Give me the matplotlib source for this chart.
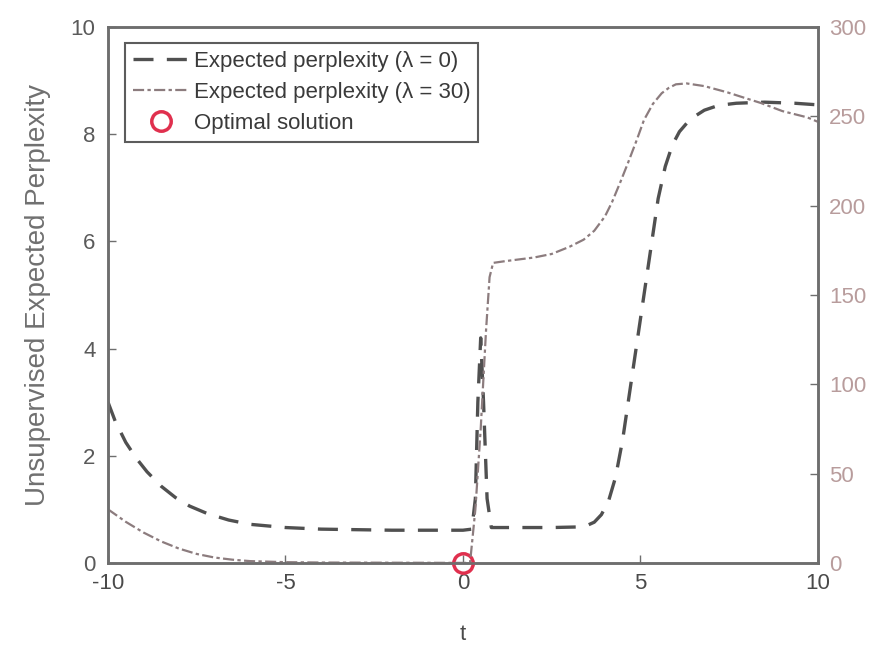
import matplotlib
matplotlib.use('Agg')
import matplotlib.pyplot as plt

# expected perplexity, lambda = 0 (left axis)
t0 = [-10, -9.8, -9.5, -9.2, -8.9, -8.5, -8.1, -7.7, -7.2, -6.6, -6.0, -5.0, -4.0, -3.0, -2.0,
      -1.0, 0.0, 0.25, 0.35, 0.42, 0.5, 0.58, 0.68, 0.8, 1.5, 2.5, 3.2, 3.5, 3.7, 3.9, 4.1,
      4.3, 4.5, 4.7, 4.9, 5.1, 5.3, 5.5, 5.7, 5.9, 6.1, 6.4, 6.8, 7.2, 7.7, 8.5, 9.35, 10]
p0 = [3.0, 2.65, 2.25, 1.95, 1.7, 1.43, 1.22, 1.06, 0.92, 0.8, 0.72, 0.66, 0.63, 0.62, 0.61,
      0.61, 0.61, 0.63, 1.2, 3.0, 4.2, 3.0, 1.2, 0.66, 0.66, 0.66, 0.67, 0.7, 0.76, 0.9, 1.15,
      1.6, 2.3, 3.2, 4.1, 5.0, 5.9, 6.8, 7.4, 7.8, 8.05, 8.28, 8.45, 8.54, 8.58, 8.6, 8.58, 8.55]

# expected perplexity, lambda = 30 (right axis)
t30 = [-10, -9.5, -9.0, -8.5, -8.0, -7.5, -7.0, -6.5, -6.0, -5.0, -4.0, -2.0, 0.0, 0.2, 0.35,
       0.5, 0.65, 0.75, 0.85, 1.2, 2.0, 2.5, 3.0, 3.4, 3.7, 4.0, 4.2, 4.45, 4.65, 4.9, 5.1,
       5.35, 5.6, 5.8, 6.0, 6.3, 6.8, 7.45, 8.0, 8.4, 9.0, 9.7, 10]
p30 = [30, 23, 17, 12, 8, 5, 3, 1.8, 1.0, 0.4, 0.2, 0.1, 0.0, 0.0, 30,
       75, 130, 160, 168, 169, 171, 173, 177, 181, 186, 194, 202, 214, 224, 237, 248,
       257, 263, 266, 268, 268.5, 267, 263.5, 260, 257.5, 253, 249.5, 247]

opt_t = [0]
opt_p = [0]

plt.rcParams['font.family'] = ['Liberation Sans', 'DejaVu Sans']
plt.rcParams['axes.unicode_minus'] = False

fig = plt.figure(figsize=(8.89, 6.47), dpi=100)
ax = fig.add_axes([0.1215, 0.130, 0.7985, 0.828])
ax2 = ax.twinx()

axc = '#6e6e6e'
rc = '#b89c9c'

l0, = ax.plot(t0, p0, color='#505050', lw=2.4, ls=(0, (6, 4)))
l30, = ax2.plot(t30, p30, color='#8c7c7e', lw=1.6, ls=(0, (5, 1.5, 1.5, 1.5)))
lo, = ax.plot(opt_t, opt_p, 'o', ms=14, mfc='none', mec='#e0304e', mew=2.5, clip_on=False, zorder=5)

ax.set_xlim(-10, 10)
ax.set_ylim(0, 10)
ax2.set_ylim(0, 300)
ax.set_xticks([-10, -5, 0, 5, 10])
ax.set_yticks([0, 2, 4, 6, 8, 10])
ax2.set_yticks([0, 50, 100, 150, 200, 250, 300])

for s in list(ax.spines.values()) + list(ax2.spines.values()):
    s.set_color(axc)
    s.set_linewidth(1.8)

ax.tick_params(axis='both', direction='in', length=6, width=1, colors=axc, labelsize=16, pad=7)
ax.tick_params(axis='y', labelcolor='#5a5a5a', pad=9)
ax.tick_params(axis='x', labelcolor='#4a4a4a')
ax2.tick_params(axis='y', direction='in', length=6, width=1, colors=axc, labelcolor=rc,
                labelsize=16, pad=8)

ax.set_ylabel('Unsupervised Expected Perplexity', fontsize=20, color='#707070', labelpad=14)
ax.set_xlabel('t', fontsize=16, color='#4a4a4a', labelpad=22)

leg = ax.legend([l0, l30, lo],
                ['Expected perplexity (λ = 0)', 'Expected perplexity (λ = 30)', 'Optimal solution'],
                loc='upper left', bbox_to_anchor=(0.024, 0.97), fontsize=16, frameon=True,
                fancybox=False, edgecolor='#333333', handlelength=2.5, handletextpad=0.25,
                borderpad=0.35, labelspacing=0.45, borderaxespad=0, labelcolor='#3a3a3a')
leg.get_frame().set_linewidth(1.5)
leg.set_zorder(10)

fig.savefig('out.png', dpi=100)
